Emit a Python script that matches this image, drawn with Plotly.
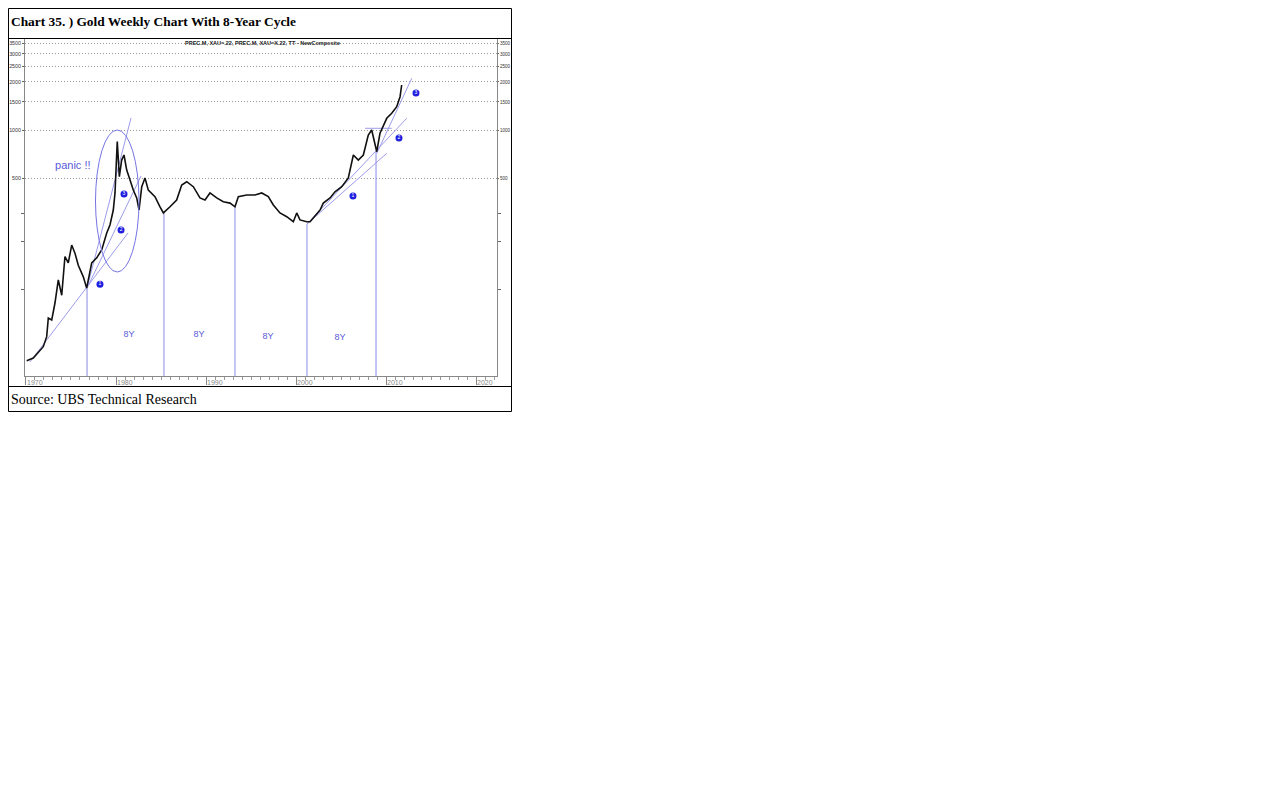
import plotly.graph_objects as go

# ---------------- data ----------------
years = [1970.08, 1970.81, 1971.92, 1972.30, 1972.48, 1972.86, 1973.22, 1973.59, 1973.97,
         1974.33, 1974.70, 1975.08, 1975.44, 1975.81, 1976.37, 1976.74, 1977.30, 1977.86,
         1978.41, 1978.97, 1979.33, 1979.70, 1979.89, 1980.14, 1980.37, 1980.63, 1980.89,
         1981.19, 1981.56, 1981.92, 1982.30, 1982.56, 1982.86, 1983.22, 1983.59, 1983.78,
         1984.33, 1984.89, 1985.26, 1986.00, 1986.74, 1987.30, 1987.86, 1988.59, 1989.33,
         1989.89, 1990.44, 1991.19, 1991.92, 1992.67, 1993.22, 1993.59, 1994.52, 1995.44,
         1996.19, 1996.92, 1997.48, 1998.22, 1998.97, 1999.70, 2000.08, 2000.44, 2001.19,
         2001.56, 2001.92, 2002.30, 2002.67, 2003.03, 2003.78, 2004.33, 2005.08, 2005.81,
         2006.37, 2006.92, 2007.48, 2008.03, 2008.41, 2008.97, 2009.33, 2010.08, 2010.63,
         2011.19, 2011.56, 2011.74]
prices = [35.8, 37.2, 43.8, 50.6, 66.3, 64.4, 82.3, 115, 92,
          161, 147, 190, 169, 142, 120, 102, 147, 158,
          177, 226, 254, 315, 403, 845, 510, 648, 697,
          561, 486, 420, 375, 315, 441, 500, 420, 410,
          382, 330, 302, 330, 364, 452, 474, 441, 375,
          364, 403, 375, 355, 348, 330, 382, 391, 391,
          403, 382, 339, 302, 286, 266, 302, 273, 266,
          266, 281, 293, 315, 348, 375, 410, 441, 500,
          697, 648, 697, 930, 1000, 731, 954, 1184, 1273,
          1400, 1617, 1915]

cycle_low_years = [1976.78, 1985.33, 1993.22, 2001.22, 2008.89]
cycle_low_prices = [102, 302, 330, 257, 728]

# trend lines: (start year, start price, end year, end price)
trend_x0 = [1970.44, 1976.78, 1976.78, 2001.22, 2001.22, 2008.97]
trend_y0 = [35.1, 102, 102, 257, 257, 714]
trend_x1 = [1981.33, 1982.78, 1981.67, 2010.08, 2012.30, 2012.86]
trend_y1 = [226, 515, 1189, 714, 1184, 2110]

resist_years = [2007.67, 2010.63]
resist_price = 1025

marker_years = [1978.22, 1980.56, 1980.89, 2006.33, 2011.44, 2013.33]
marker_prices = [108, 236, 397, 386, 891, 1706]
marker_labels = ["1", "2", "3", "1", "2", "3"]

cycle_label_years = [1981.44, 1989.22, 1996.89, 2004.89]
cycle_label_price = [51.9, 51.9, 50.5, 49.5]
cycle_labels = ["8Y", "8Y", "8Y", "8Y"]

ytick_vals = [500, 1000, 1500, 2000, 2500, 3000, 3500]
ytick_text = ["500", "1000", "1500", "2000", "2500", "3000", "3500"]
xtick_vals = [1970, 1980, 1990, 2000, 2010, 2020]
xtick_text = ["1970", "1980", "1990", "2000", "2010", "2020"]

title_text = "Chart 35. ) Gold Weekly Chart With 8-Year Cycle"
source_text = "Source: UBS Technical Research"
header_text = "PREC.M, XAU=.22, PREC.M, XAU=X.22, TT - NewComposite"

# ---------------- layout helpers ----------------
W, H = 504, 404          # figure sits at page offset (8, 8)
def px(x):
    return (x - 8) / W
def py(y):
    return 1 - (y - 8) / H

LINE_BLUE = "#8a8ae6"
TEXT_BLUE = "#5a5ad8"
DOT_BLUE = "#1f1fe0"

fig = go.Figure()

# cycle low verticals
for yr, lo in zip(cycle_low_years, cycle_low_prices):
    fig.add_trace(go.Scatter(x=[yr, yr], y=[20, lo], mode="lines",
                             line=dict(color=LINE_BLUE, width=1), hoverinfo="skip",
                             showlegend=False))
# trend lines
for a, b, c, d in zip(trend_x0, trend_y0, trend_x1, trend_y1):
    fig.add_trace(go.Scatter(x=[a, c], y=[b, d], mode="lines",
                             line=dict(color="#9c9cec", width=1), hoverinfo="skip",
                             showlegend=False))
fig.add_trace(go.Scatter(x=resist_years, y=[resist_price, resist_price], mode="lines",
                         line=dict(color="#9c9cec", width=1), showlegend=False))

# price
fig.add_trace(go.Scatter(x=years, y=prices, mode="lines",
                         line=dict(color="#111111", width=1.6), showlegend=False))

# numbered markers
fig.add_trace(go.Scatter(x=marker_years, y=marker_prices, mode="markers+text",
                         marker=dict(color=DOT_BLUE, size=7),
                         text=marker_labels, textposition="middle center",
                         textfont=dict(color="white", size=5, family="Arial"),
                         showlegend=False))
# 8Y labels
fig.add_trace(go.Scatter(x=cycle_label_years, y=cycle_label_price, mode="text",
                         text=cycle_labels,
                         textfont=dict(color=TEXT_BLUE, size=9, family="Liberation Sans"),
                         showlegend=False))
# panic label
fig.add_trace(go.Scatter(x=[1975.2], y=[595], mode="text", text=["panic !!"],
                         textfont=dict(color=TEXT_BLUE, size=11, family="Liberation Sans"),
                         showlegend=False))
# dummy trace for right axis
fig.add_trace(go.Scatter(x=[1990], y=[500], yaxis="y2", mode="markers",
                         marker=dict(opacity=0), hoverinfo="skip", showlegend=False))

yrange = [1.4577, 3.5705]
GRID_DASH = "1px,2px"
fig.update_layout(
    width=W, height=H,
    margin=dict(l=0, r=0, t=0, b=0, pad=0, autoexpand=False),
    paper_bgcolor="white", plot_bgcolor="white",
    xaxis=dict(domain=[px(25), px(497)], range=[1969.89, 2022.33], automargin=False,
               tickvals=xtick_vals, ticktext=xtick_text,
               ticks="outside", ticklen=8, tickcolor="#888", tickwidth=1,
               ticklabelposition="outside right",
               tickfont=dict(size=7, color="#888", family="Liberation Sans"),
               showline=True, linecolor="#888", linewidth=1,
               showgrid=False, zeroline=False,
               minor=dict(dtick=1, ticks="outside", ticklen=3, tickcolor="#999")),
    yaxis=dict(domain=[py(376), py(39)], type="log", range=yrange, automargin=False,
               tickvals=ytick_vals, ticktext=ytick_text,
               ticks="outside", ticklen=2, tickcolor="#666",
               tickfont=dict(size=5.3, color="#333", family="Liberation Sans"),
               showline=True, linecolor="#888", linewidth=1,
               showgrid=True, gridcolor="#999999", griddash=GRID_DASH, gridwidth=1,
               zeroline=False,
               minor=dict(tickvals=[100, 200, 300], ticks="outside", ticklen=3,
                          tickcolor="#666", showgrid=False)),
    yaxis2=dict(overlaying="y", side="right", type="log", range=yrange, automargin=False,
                tickvals=ytick_vals, ticktext=ytick_text,
                ticks="outside", ticklen=1, tickcolor="#666",
                tickfont=dict(size=4.6, color="#333", family="Liberation Sans"),
                showline=True, linecolor="#888", linewidth=1,
                showgrid=False, zeroline=False,
                minor=dict(tickvals=[100, 200, 300], ticks="outside", ticklen=3,
                           tickcolor="#666", showgrid=False)),
    shapes=[
        dict(type="circle", xref="paper", yref="paper",
             x0=px(95.5), x1=px(139), y0=py(272), y1=py(130),
             line=dict(color="#7575e2", width=1)),
        dict(type="rect", xref="paper", yref="paper", x0=px(8.5), x1=px(511.5),
             y0=py(411.5), y1=py(8.5), line=dict(color="black", width=1), layer="above"),
        dict(type="line", xref="paper", yref="paper", x0=px(8), x1=px(512),
             y0=py(38.5), y1=py(38.5), line=dict(color="black", width=1), layer="above"),
        dict(type="line", xref="paper", yref="paper", x0=px(8), x1=px(512),
             y0=py(386.5), y1=py(386.5), line=dict(color="black", width=1), layer="above"),
    ],
    annotations=[
        dict(text="<b>" + title_text + "</b>", xref="paper", yref="paper",
             x=px(9), y=py(21), xanchor="left", yanchor="middle", showarrow=False,
             font=dict(family="Liberation Serif", size=13.4, color="black")),
        dict(text=source_text, xref="paper", yref="paper",
             x=px(9), y=py(399), xanchor="left", yanchor="middle", showarrow=False,
             font=dict(family="Liberation Serif", size=14, color="black")),
        dict(text="<b>" + header_text + "</b>", xref="paper", yref="paper",
             x=px(262), y=py(43), xanchor="center", yanchor="middle", showarrow=False,
             font=dict(family="Liberation Sans", size=5.5, color="#222")),
    ],
)

fig.write_html("out.html")
